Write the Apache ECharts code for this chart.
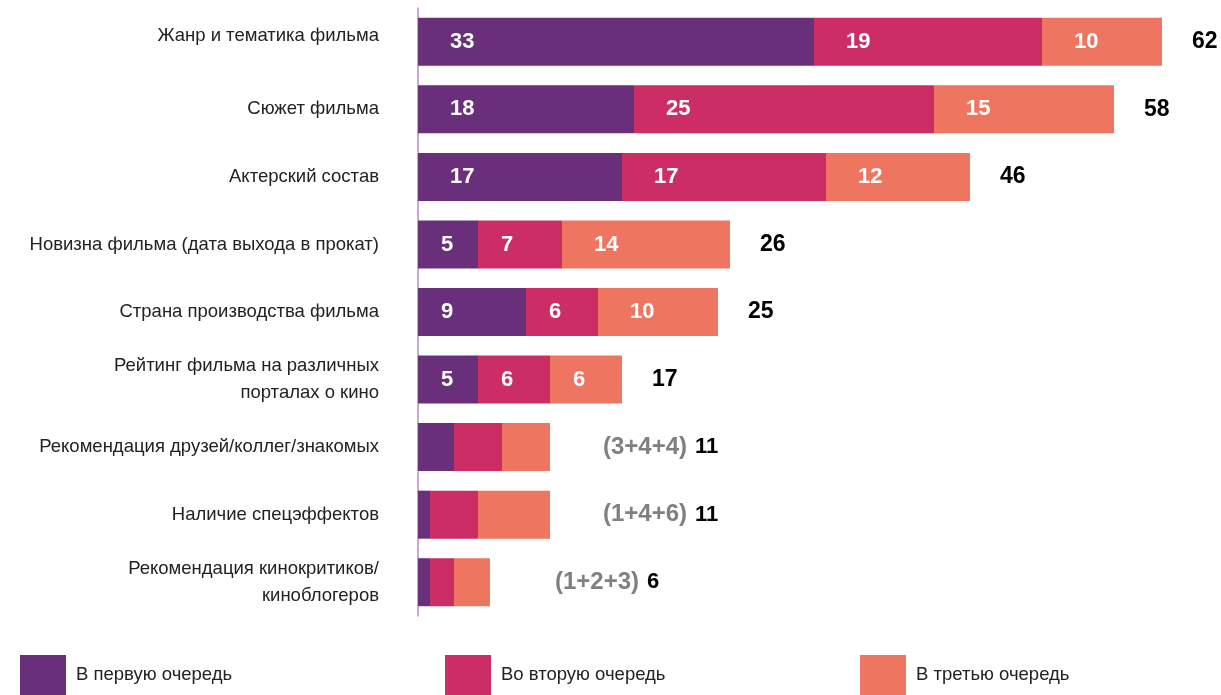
<!DOCTYPE html>
<html><head><meta charset="utf-8">
<script src="https://cdn.jsdelivr.net/npm/echarts@6/dist/echarts.min.js"></script>
<style>html,body{margin:0;padding:0;background:#fff}#c{width:1221px;height:695px}</style>
</head><body><div id="c"></div>
<script>
const categories = [
  'Жанр и тематика фильма',
  'Сюжет фильма',
  'Актерский состав',
  'Новизна фильма (дата выхода в прокат)',
  'Страна производства фильма',
  'Рейтинг фильма на различных\nпорталах о кино',
  'Рекомендация друзей/коллег/знакомых',
  'Наличие спецэффектов',
  'Рекомендация кинокритиков/\nкиноблогеров'
];
const seriesNames = ['В первую очередь', 'Во вторую очередь', 'В третью очередь'];
const first  = [33, 18, 17, 5, 9, 5, 3, 1, 1];
const second = [19, 25, 17, 7, 6, 6, 4, 4, 2];
const third  = [10, 15, 12, 14, 10, 6, 4, 6, 3];
const showInside = [true, true, true, true, true, true, false, false, false];

const colors = ['#692f7b', '#cb2d64', '#ee7560'];
const totalGap = [30, 30, 30, 30, 30, 30, 53, 53, 65];
const FONT = '"Liberation Sans", Arial, sans-serif';

const valuesBySeries = [first, second, third];
const totals = categories.map((_, i) => first[i] + second[i] + third[i]);

function makeData(arr) {
  return arr.map((v, i) => {
    const item = { value: v, label: {} };
    if (showInside[i]) {
      item.label.show = true;
      item.label.position = 'insideLeft';
      item.label.distance = v >= 10 ? 32 : 23;
      item.label.formatter = String(v);
    } else {
      item.label.show = false;
    }
    return item;
  });
}

const series = valuesBySeries.map((arr, s) => ({
  name: seriesNames[s],
  type: 'bar',
  stack: 'total',
  barWidth: 48,
  itemStyle: { color: colors[s] },
  label: { color: '#fff', fontSize: 22, fontWeight: 'bold', fontFamily: FONT },
  data: makeData(arr),
  silent: true
}));

series.push({
  name: 'total',
  type: 'bar',
  stack: 'total',
  barWidth: 48,
  itemStyle: { color: 'transparent' },
  data: totals.map((t, i) => ({
    value: 0,
    label: {
      show: true,
      position: 'right',
      distance: totalGap[i],
      formatter: showInside[i] ? '{b|' + t + '}' :
        '{g|(' + first[i] + '+' + second[i] + '+' + third[i] + ')}{s|' + t + '}'
    }
  })),
  label: {
    rich: {
      b: { fontSize: 23, fontWeight: 'bold', color: '#000', fontFamily: FONT },
      s: { fontSize: 22, fontWeight: 'bold', color: '#000', fontFamily: FONT, padding: [0, 0, 0, 8] },
      g: { fontSize: 24, fontWeight: 'bold', color: '#808080', fontFamily: FONT }
    }
  },
  silent: true
});

const legendLefts = [15, 440, 855];
const legends = seriesNames.map((n, i) => ({
  data: [n],
  left: legendLefts[i],
  top: 650,
  itemWidth: 46,
  itemHeight: 40,
  icon: 'rect',
  selectedMode: false,
  textStyle: { fontSize: 18.5, color: '#222', fontFamily: FONT, padding: [0, 0, 0, 5] }
}));

const chart = echarts.init(document.getElementById('c'), null, { renderer: 'canvas' });
chart.setOption({
  animation: false,
  textStyle: { fontFamily: FONT },
  grid: { left: 418, right: 11, top: 8, bottom: 79, containLabel: false },
  legend: legends,
  xAxis: { type: 'value', min: 0, max: 66, show: false },
  yAxis: {
    type: 'category',
    inverse: true,
    data: categories,
    axisLine: { show: true, lineStyle: { color: '#b98bc9', width: 1.5 } },
    axisTick: { show: false },
    axisLabel: {
      margin: 39, fontSize: 18.5, color: '#222', lineHeight: 27, fontFamily: FONT,
      formatter: (v, idx) => idx === 0 ? '{up|' + v + '}' : v,
      rich: { up: { fontSize: 18.5, color: '#222', fontFamily: FONT, padding: [0, 0, 11, 0] } }
    }
  },
  series: series
});
</script>
</body></html>
